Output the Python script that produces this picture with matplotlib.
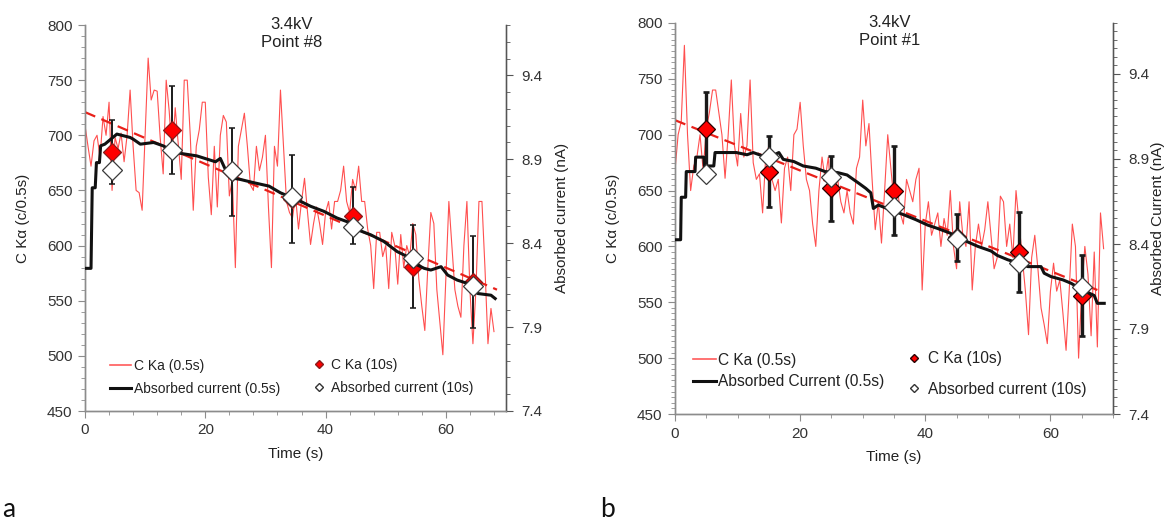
import matplotlib
matplotlib.use("Agg")
import matplotlib.pyplot as plt
from matplotlib.ticker import MultipleLocator, FixedLocator
from matplotlib.lines import Line2D
import numpy as np

plt.rcParams['font.family'] = ['Liberation Sans', 'DejaVu Sans']

# ------------------------------------------------------------------ data
# Panel a (Point #8): C Ka counts every 0.5 s
cka_fast_a = [709, 690, 672, 695, 700, 680, 717, 700, 730, 650, 698, 688, 702, 676, 700, 741,
              690, 650, 648, 632, 700, 770, 732, 741, 740, 698, 665, 750, 722, 682, 725, 692,
              660, 750, 750, 700, 632, 690, 705, 730, 730, 662, 628, 690, 635, 700, 718, 712,
              645, 660, 580, 690, 705, 720, 690, 655, 650, 690, 668, 680, 700, 635, 580, 690,
              672, 741, 690, 640, 630, 625, 645, 615, 640, 661, 630, 601, 620, 635, 620, 601,
              630, 640, 615, 640, 640, 650, 672, 640, 630, 660, 650, 672, 640, 640, 615, 600,
              561, 612, 612, 590, 600, 561, 612, 600, 565, 610, 580, 600, 590, 620, 610, 570,
              545, 523, 580, 630, 620, 560, 530, 501, 570, 640, 600, 560, 545, 535, 600, 640,
              560, 511, 560, 640, 640, 580, 511, 543, 522]
# absorbed current (0.5 s) vertices, panel a
cur_time_a = [0, 1.0, 1.2, 1.7, 1.9, 2.4, 2.6, 3.3, 5.3, 7.5, 8.0, 9.2, 11.4, 13.0, 15.0,
              18.6, 21.7, 22.5, 23.2, 24.2, 25.8, 28.1, 30.6, 32.5, 34.5, 35.8, 37.5, 39.7,
              41.9, 44.2, 45.3, 47.5, 49.7, 50.8, 51.9, 53.6, 54.7, 56.4, 57.5, 59.2, 60.3,
              61.9, 63.6, 65.3, 67.5, 68.2]
cur_fast_a = [8.25, 8.25, 8.73, 8.73, 8.88, 8.88, 8.98, 8.99, 9.05, 9.03, 9.02, 8.99, 9.00,
              8.98, 8.94, 8.92, 8.885, 8.905, 8.85, 8.79, 8.78, 8.76, 8.74, 8.70, 8.67, 8.65,
              8.62, 8.59, 8.55, 8.52, 8.48, 8.45, 8.41, 8.38, 8.35, 8.32, 8.28, 8.25, 8.24,
              8.26, 8.21, 8.18, 8.16, 8.10, 8.09, 8.07]
slow_time_a = [4.5, 14.5, 24.5, 34.5, 44.5, 54.5, 64.5]
cka_slow_a = [685, 705, 667, 642, 627, 581, 567]
cka_err_a = [29, 40, 40, 40, 26, 38, 42]
cur_slow_a = [8.836, 8.957, 8.833, 8.675, 8.497, 8.310, 8.143]
trend_time_a = [0, 68.5]
trend_cka_a = [721, 560]

# Panel b (Point #1)
cka_fast_b = [668, 700, 712, 780, 700, 650, 672, 680, 700, 668, 705, 720, 740, 740, 720, 700,
              661, 700, 749, 690, 672, 719, 680, 690, 749, 675, 660, 665, 630, 680, 690, 660,
              650, 660, 621, 670, 680, 650, 700, 705, 729, 690, 660, 650, 620, 600, 650, 680,
              660, 680, 640, 650, 660, 640, 630, 650, 630, 620, 670, 680, 731, 690, 710, 660,
              615, 640, 603, 650, 700, 670, 640, 655, 630, 620, 660, 650, 640, 660, 670, 561,
              620, 640, 610, 620, 630, 600, 625, 610, 650, 600, 580, 640, 610, 600, 640, 561,
              600, 620, 600, 615, 640, 610, 580, 590, 645, 640, 600, 620, 590, 650, 620, 590,
              560, 521, 590, 610, 580, 545, 530, 513, 560, 585, 560, 570, 540, 507, 560, 620,
              600, 500, 560, 600, 575, 520, 595, 510, 630, 598]
cur_time_b = [0, 0.9, 1.0, 1.7, 1.8, 3.2, 3.3, 4.6, 4.7, 6.2, 6.4, 9.8, 11.5, 12.5, 14.0,
              15.5, 16.6, 17.3, 19.0, 20.5, 22.5, 24.0, 26.0, 27.5, 28.5, 29.5, 30.5, 31.3,
              31.7, 32.5, 34.3, 36.7, 38.5, 40.4, 42.0, 43.9, 46.0, 48.4, 50.5, 51.5, 53.2,
              55.0, 56.4, 58.5, 59.0, 60.1, 62.0, 63.3, 64.5, 65.9, 67.0, 67.5, 68.6]
cur_fast_b = [8.425, 8.425, 8.675, 8.675, 8.826, 8.826, 8.911, 8.911, 8.859, 8.859, 8.938,
              8.938, 8.925, 8.938, 8.918, 8.918, 8.938, 8.898, 8.885, 8.859, 8.846, 8.826,
              8.820, 8.806, 8.780, 8.754, 8.727, 8.701, 8.609, 8.629, 8.603, 8.570, 8.543,
              8.511, 8.491, 8.465, 8.425, 8.386, 8.359, 8.333, 8.307, 8.287, 8.267, 8.267,
              8.228, 8.208, 8.189, 8.169, 8.143, 8.116, 8.097, 8.051, 8.051]
slow_time_b = [5, 15, 25, 35, 45, 55, 65]
cka_slow_b = [705, 667, 652, 650, 608, 595, 556]
cka_err_b = [33, 32, 29, 40, 21, 36, 36]
cur_slow_b = [8.813, 8.911, 8.793, 8.619, 8.432, 8.287, 8.149]
trend_time_b = [0, 67.5]
trend_cka_b = [713, 561]

titles = ["3.4kV\nPoint #8", "3.4kV\nPoint #1"]
right_labels = ["Absorbed current (nA)", "Absorbed Current (nA)"]
legend1_labels = [["C Ka (0.5s)", "Absorbed current (0.5s)"],
                  ["C Ka (0.5s)", "Absorbed Current (0.5s)"]]
legend2_labels = ["C Ka (10s)", "Absorbed current (10s)"]
panel_letters = ["a", "b"]

# ------------------------------------------------------------------ figure
W, H = 1169, 520
fig = plt.figure(figsize=(W / 100, H / 100), dpi=100)

def fx(px):
    return px / W

def fy(py):
    return 1 - py / H

panels = [
    dict(rect=[fx(85), fy(411), fx(506) - fx(85), fy(25) - fy(411)],
         cka=cka_fast_a, ctime=cur_time_a, cur=cur_fast_a, st=slow_time_a,
         cs=cka_slow_a, ce=cka_err_a, cus=cur_slow_a, tt=trend_time_a, tc=trend_cka_a,
         yminor=10, xminor=4, rminor=0.1, elw=1.4, redge='#8a1a1a', leg_fs=10,
         leg1=(110, 377.5, 1.5, 0.2, 0.6), leg2=(313, 376.5, 0.6), letter_x=2,
         rpad=9, top=25),
    dict(rect=[fx(675), fy(414), fx(1113) - fx(675), fy(23) - fy(414)],
         cka=cka_fast_b, ctime=cur_time_b, cur=cur_fast_b, st=slow_time_b,
         cs=cka_slow_b, ce=cka_err_b, cus=cur_slow_b, tt=trend_time_b, tc=trend_cka_b,
         yminor=5, xminor=5, rminor=0.05, elw=2.4, redge='#2a0000', leg_fs=11.2,
         leg1=(693, 371, 1.5, 0.1, 0.4), leg2=(908, 374, 1.0), letter_x=600,
         rpad=1, top=23),
]

for i, p in enumerate(panels):
    ax = fig.add_axes(p['rect'])
    ax2 = ax.twinx()
    t_fast = np.arange(len(p['cka'])) * 0.5

    ax.plot(t_fast, p['cka'], color='#ff3030', lw=0.8, alpha=0.85, zorder=2)
    ax.plot(p['tt'], p['tc'], color='#e8201a', lw=1.6, ls=(0, (5, 3)), zorder=3)
    ax.errorbar(p['st'], p['cs'], yerr=p['ce'], fmt='none', ecolor='#1a1a1a',
                elinewidth=p['elw'], capsize=2.5, capthick=p['elw'] * 0.8, zorder=4)
    ax.plot(p['st'], p['cs'], ls='none', marker='D', ms=9.6, mfc='#ff0000',
            mec=p['redge'], mew=0.9, zorder=5)

    ax2.plot(p['ctime'], p['cur'], color='#111111', lw=2.2, zorder=3)
    ax2.plot(p['st'], p['cus'], ls='none', marker='D', ms=10.2, mfc='white',
             mec='#3a3a3a', mew=0.9, zorder=5)

    ax.set_xlim(0, 70)
    ax.set_ylim(450, 800)
    ax2.set_ylim(7.4, 9.7)

    ax.xaxis.set_major_locator(MultipleLocator(20))
    ax.xaxis.set_minor_locator(MultipleLocator(p['xminor']))
    ax.yaxis.set_major_locator(MultipleLocator(50))
    ax.yaxis.set_minor_locator(MultipleLocator(p['yminor']))
    ax2.yaxis.set_major_locator(FixedLocator([7.4, 7.9, 8.4, 8.9, 9.4]))
    ax2.yaxis.set_minor_locator(MultipleLocator(p['rminor']))
    ax2.yaxis.set_major_formatter(matplotlib.ticker.FormatStrFormatter('%.1f'))

    for a in (ax, ax2):
        a.spines['top'].set_visible(False)
        for s in a.spines.values():
            s.set_color('#8c8c8c')
            s.set_linewidth(1.0)
        a.tick_params(which='both', direction='out', colors='#8c8c8c',
                      labelcolor='#333333', labelsize=11)
        a.tick_params(which='major', length=5)
        a.tick_params(which='minor', length=3)
    ax2.spines['right'].set_color('#555555')
    ax2.tick_params(which='both', colors='#555555', labelcolor='#333333', pad=6)
    ax.tick_params(axis='y', pad=4)
    ax.tick_params(axis='x', pad=4)

    ax.set_xlabel("Time (s)", fontsize=11, color='#222222', labelpad=7)
    ax.set_ylabel("C K\u03b1 (c/0.5s)", fontsize=11, color='#222222', labelpad=12)
    ax2.set_ylabel(right_labels[i], fontsize=11, color='#222222', labelpad=p['rpad'])

    ax_h = 386 if i == 0 else 391
    ax.text(0.49, 1 - 8.5 / ax_h, titles[i], transform=ax.transAxes, ha='center',
            va='center', fontsize=12, color='#222222', linespacing=1.2)

    # legends
    fs = p['leg_fs']
    lx, ly, hl, htp, ls_ = p['leg1']
    h1 = [Line2D([], [], color='#ff5a5a', lw=1.2),
          Line2D([], [], color='#111111', lw=2.2)]
    leg1 = ax2.legend(h1, legend1_labels[i], loc='center left',
                      bbox_to_anchor=(fx(lx), fy(ly)), bbox_transform=fig.transFigure,
                      frameon=False, fontsize=fs, handlelength=hl, handletextpad=htp,
                      labelspacing=ls_, borderpad=0, borderaxespad=0)
    for txt in leg1.get_texts():
        txt.set_color('#222222')
    ax2.add_artist(leg1)
    mx, my, mls = p['leg2']
    h2 = [Line2D([], [], ls='none', marker='D', ms=4.5, mfc='#ff0000', mec=p['redge']),
          Line2D([], [], ls='none', marker='D', ms=4.5, mfc='white', mec='#333333')]
    leg2 = ax2.legend(h2, legend2_labels, loc='center left',
                      bbox_to_anchor=(fx(mx), fy(my)), bbox_transform=fig.transFigure,
                      frameon=False, fontsize=fs, handlelength=0.8, handletextpad=0.5,
                      labelspacing=mls, borderpad=0, borderaxespad=0)
    for txt in leg2.get_texts():
        txt.set_color('#222222')

    fig.text(fx(p['letter_x']), fy(517), panel_letters[i], fontsize=19,
             family=['Lato', 'DejaVu Sans'], ha='left', va='baseline', color='#111111')

fig.savefig("out.png", dpi=100)
